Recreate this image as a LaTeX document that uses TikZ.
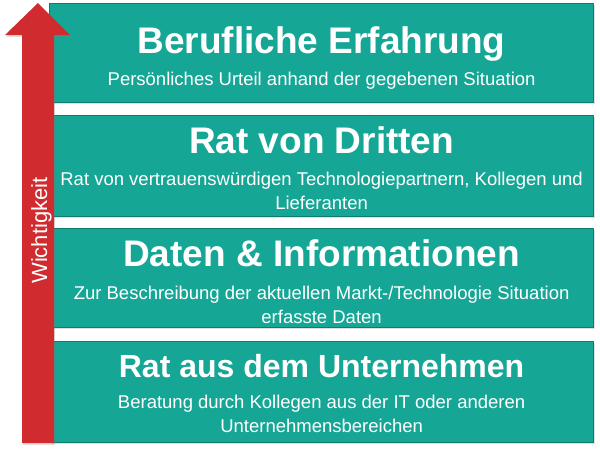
\documentclass[tikz,border=0pt]{standalone}
\usepackage{fontspec}
\setmainfont{Liberation Sans}
\usetikzlibrary{shadows}
\definecolor{tealbox}{RGB}{22,166,150}
\definecolor{tealrand}{RGB}{14,124,113}
\definecolor{pfeilrot}{RGB}{208,43,47}
\begin{document}
\begin{tikzpicture}[line cap=round,line join=round,x=1pt,y=-1pt,
  stufe/.style={draw=tealrand,line width=1.2pt,fill=tealbox,minimum width=544pt,inner sep=0pt,anchor=north west,
    drop shadow={opacity=0.25,shadow xshift=1pt,shadow yshift=-1.5pt}},
  titel/.style={text=white,anchor=base,font=\fontsize{37}{40}\selectfont\bfseries},
  info/.style={text=white,anchor=base,align=center,font=\fontsize{18.5}{24}\selectfont}]
\useasboundingbox (0,0) rectangle (600,450);
% Stufen, von oben nach unten
\node[stufe,minimum height=99pt] (erfahrung) at (49,3) {};
\node[stufe,minimum height=101pt] (dritte) at (49,115) {};
\node[stufe,minimum height=99pt] (daten) at (49,228) {};
\node[stufe,minimum height=101pt] (intern) at (49,341) {};
\node[titel] (erfahrungT) at ([yshift=-50pt]erfahrung.north) {Berufliche Erfahrung};
\node[info] (erfahrungI) at ([yshift=-82pt]erfahrung.north) {Persönliches Urteil anhand der gegebenen Situation};
% base = letzte Zeile
\node[titel] (dritteT) at ([yshift=-38pt]dritte.north) {Rat von Dritten};
\node[info] (dritteI) at ([yshift=-94pt]dritte.north) {Rat von vertrauenswürdigen Technologiepartnern, Kollegen und\\Lieferanten};
\node[titel] (datenT) at ([yshift=-38pt]daten.north) {Daten \& Informationen};
\node[info] (datenI) at ([yshift=-95pt]daten.north) {Zur Beschreibung der aktuellen Markt-/Technologie Situation\\erfasste Daten};
\node[titel,font=\fontsize{32}{36}\selectfont\bfseries] (internT) at ([yshift=-36pt]intern.north) {Rat aus dem Unternehmen};
\node[info] (internI) at ([yshift=-91pt]intern.north) {Beratung durch Kollegen aus der IT oder anderen\\Unternehmensbereichen};
% Pfeil
\fill [pfeilrot,drop shadow={opacity=0.25,shadow xshift=1pt,shadow yshift=-2pt}] (22,443) -- (22,35) -- (5,35) -- (38,3) -- (70,35) -- (54,35) -- (54,443) -- cycle;
\node[rotate=90,anchor=base,text=white,font=\fontsize{22}{26}\selectfont] (wichtig) at (47,230.5) {Wichtigkeit};
\end{tikzpicture}
\end{document}
